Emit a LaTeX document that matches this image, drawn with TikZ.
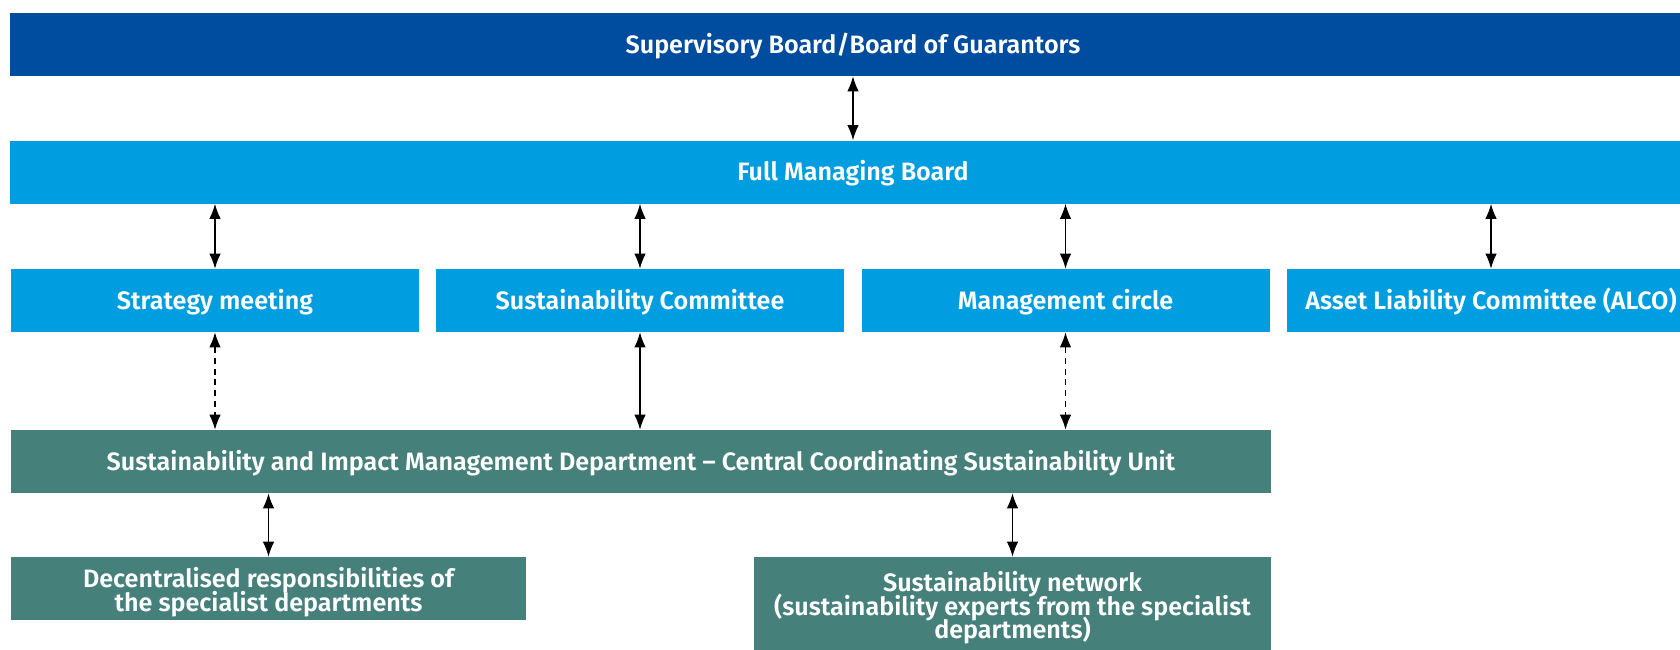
\documentclass[tikz,border=0pt]{standalone}
\usepackage{fontspec}
\setmainfont{Fira Sans}[BoldFont={* SemiBold}]
\usepackage{tikz}
\usetikzlibrary{arrows.meta}
\tikzset{>={Latex[length=3mm,width=2.3mm]}}
\definecolor{darkblue}{HTML}{004C9E}
\definecolor{lightblue}{HTML}{009EE0}
\definecolor{deptgreen}{HTML}{45807A}
\newcommand\boxfont{\bfseries\fontsize{14.3}{13.5}\selectfont\lineskiplimit-20pt\relax}
\tikzstyle{multibox} = [rectangle, inner sep=0pt, minimum height=1.26cm,
    text=white, align=center, font=\boxfont]
\tikzstyle{box} = [multibox, text height=14pt, text depth=4.2pt]
\tikzstyle{link} = [<->, line width=0.7pt]

\begin{document}
\begin{tikzpicture}
\useasboundingbox (0,0) rectangle (33.6,-12.98);
\clip (0,0) rectangle (33.6,-12.98);
    %boards
    \node[box, fill=darkblue, minimum width=33.7cm] (sb) at (17.06,-0.89) {Supervisory Board/Board of Guarantors};
    \node[box, fill=lightblue, minimum width=33.7cm] (fmb) at (17.06,-3.44) {Full Managing Board};
    %committees
    \node[box, fill=lightblue, minimum width=8.16cm] (sm) at (4.30,-6.01) {Strategy meeting};
    \node[box, fill=lightblue, minimum width=8.16cm] (sc) at (12.80,-6.01) {Sustainability Committee};
    \node[box, fill=lightblue, minimum width=8.16cm] (mc) at (21.31,-6.01) {Management circle};
    \node[box, fill=lightblue, minimum width=8.16cm] (alco) at (29.82,-6.01) {Asset Liability Committee (ALCO)};
    %departments
    \node[box, fill=deptgreen, minimum width=25.2cm] (sim) at (12.82,-9.23) {Sustainability and Impact Management Department -- Central Coordinating Sustainability Unit};
    \node[multibox, fill=deptgreen, minimum width=10.3cm] (dec) at (5.37,-11.77) {\rule{0pt}{15.5pt}Decentralised responsibilities of\\the specialist departments};
    \node[multibox, fill=deptgreen, minimum width=10.34cm, minimum height=1.96cm] (net) at (20.25,-12.12) {\rule{0pt}{13.5pt}Sustainability network\\(sustainability experts from the specialist\\departments)};
    %arrows
    \draw[link] (sb) -- (fmb);
    \draw[link] (fmb.south -| sm) -- (sm.north);
    \draw[link] (fmb.south -| sc) -- (sc.north);
    \draw[link] (fmb.south -| mc) -- (mc.north);
    \draw[link] (fmb.south -| alco) -- (alco.north);
    \draw[link, dash pattern=on 3.4pt off 2.8pt] (sm.south) -- (sm.south |- sim.north);
    \draw[link] (sc.south) -- (sc.south |- sim.north);
    \draw[link, dash pattern=on 3.4pt off 2.8pt] (mc.south) -- (mc.south |- sim.north);
    \draw[link] (sim.south -| dec) -- (dec.north);
    \draw[link] (sim.south -| net) -- (net.north);
\end{tikzpicture}
\end{document}
